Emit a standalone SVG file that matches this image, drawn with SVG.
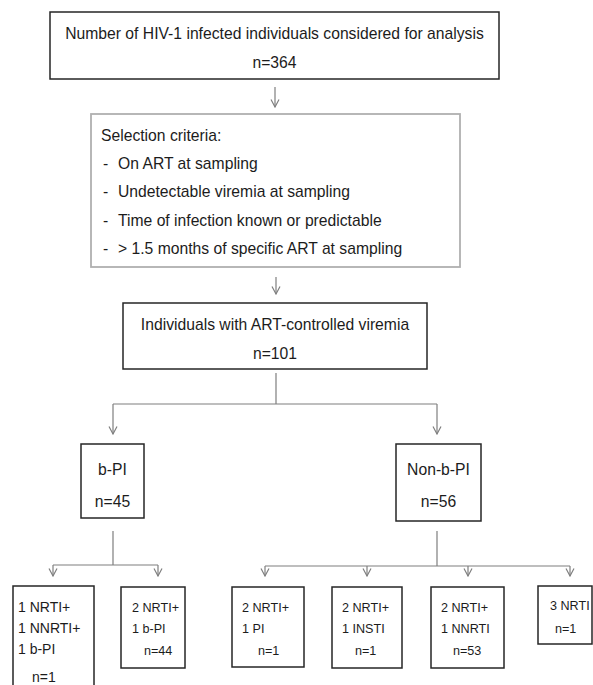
<svg xmlns="http://www.w3.org/2000/svg" width="593" height="685" viewBox="0 0 593 685">
  <defs>
    <style>
      .box { fill: #ffffff; stroke: #262626; stroke-width: 1.5; }
      .criteria { fill: #ffffff; stroke: #b0b0b0; stroke-width: 1.8; }
      .lbl { font-family: "Liberation Sans", Arial, sans-serif; font-size: 15.7px; fill: #1c1c1c; }
      .mid { text-anchor: middle; }
      .sm { font-family: "Liberation Sans", Arial, sans-serif; font-size: 12.6px; fill: #1c1c1c; }
      .md { font-family: "Liberation Sans", Arial, sans-serif; font-size: 14px; fill: #1c1c1c; }
      .conn { fill: none; stroke: #7f7f7f; stroke-width: 1.2; }
      .arrow { marker-end: url(#openHead); }
    </style>
    <marker id="openHead" markerUnits="userSpaceOnUse" viewBox="-9 -5 10 10" refX="0" refY="0" markerWidth="10" markerHeight="10" orient="auto">
      <path d="M-7.5,-4 L0,0 L-7.5,4" fill="none" stroke="#7f7f7f" stroke-width="1.2"/>
    </marker>
  </defs>

  <rect width="593" height="685" fill="#ffffff"/>

  <!-- connectors -->
  <g id="connectors" class="conn">
    <line class="arrow" x1="275" y1="87" x2="275" y2="107"/>
    <line class="arrow" x1="276" y1="277" x2="276" y2="294"/>
    <path d="M276,373 V404 M113,404 H437"/>
    <line class="arrow" x1="113" y1="404" x2="113" y2="434"/>
    <line class="arrow" x1="437" y1="404" x2="437" y2="434"/>
    <path d="M113,531 V565 M53,565 H158"/>
    <line class="arrow" x1="53" y1="565" x2="53" y2="576"/>
    <line class="arrow" x1="158" y1="565" x2="158" y2="576"/>
    <path d="M437,531 V566 M265,566 H570"/>
    <line class="arrow" x1="265" y1="566" x2="265" y2="576"/>
    <line class="arrow" x1="367" y1="566" x2="367" y2="576"/>
    <line class="arrow" x1="468" y1="566" x2="468" y2="576"/>
    <line class="arrow" x1="570" y1="566" x2="570" y2="576"/>
  </g>

  <!-- cohort -->
  <g id="cohort">
    <rect class="box" x="50" y="12" width="449" height="67"/>
    <text class="lbl mid" x="274.5" y="38.5">Number of HIV-1  infected individuals considered for analysis</text>
    <text class="lbl mid" x="274.5" y="67.5">n=364</text>
  </g>

  <!-- selection criteria -->
  <g id="criteria">
    <rect class="criteria" x="91" y="114" width="369" height="153"/>
    <text class="lbl" x="101" y="140.5">Selection criteria:</text>
    <text class="lbl" x="103" y="168.5">-</text>
    <text class="lbl" x="118" y="168.5">On ART at sampling</text>
    <text class="lbl" x="103" y="197">-</text>
    <text class="lbl" x="118" y="197">Undetectable viremia at sampling</text>
    <text class="lbl" x="103" y="225.5">-</text>
    <text class="lbl" x="118" y="225.5">Time of infection known or predictable</text>
    <text class="lbl" x="103" y="253.5">-</text>
    <text class="lbl" x="118" y="253.5">&gt; 1.5 months of specific ART at sampling</text>
  </g>

  <!-- controlled -->
  <g id="controlled">
    <rect class="box" x="123" y="303" width="304" height="66"/>
    <text class="lbl mid" x="275" y="329.5">Individuals with ART-controlled viremia</text>
    <text class="lbl mid" x="275" y="358.5">n=101</text>
  </g>

  <!-- b-PI -->
  <g id="bpi">
    <rect class="box" x="81" y="444" width="63" height="74"/>
    <text class="lbl mid" x="112.5" y="474.5">b-PI</text>
    <text class="lbl mid" x="112.5" y="506.5">n=45</text>
  </g>

  <!-- non-b-PI -->
  <g id="nonbpi">
    <rect class="box" x="396" y="444" width="85" height="77"/>
    <text class="lbl mid" x="438.5" y="474.5">Non-b-PI</text>
    <text class="lbl mid" x="438.5" y="506.5">n=56</text>
  </g>

  <!-- regimens -->
  <g id="reg-nrti-nnrti-bpi">
    <rect class="box" x="13" y="586" width="81" height="112"/>
    <text class="md" x="18" y="612">1 NRTI+</text>
    <text class="md" x="18" y="633">1 NNRTI+</text>
    <text class="md" x="18" y="654">1 b-PI</text>
    <text class="md" x="32" y="682">n=1</text>
  </g>

  <g id="reg-2nrti-bpi">
    <rect class="box" x="121" y="587" width="64" height="81"/>
    <text class="sm" x="132" y="611.5">2 NRTI+</text>
    <text class="sm" x="132" y="632.5">1 b-PI</text>
    <text class="sm" x="144" y="655">n=44</text>
  </g>

  <g id="reg-2nrti-pi">
    <rect class="box" x="232" y="587" width="72" height="80"/>
    <text class="sm" x="242" y="611.5">2 NRTI+</text>
    <text class="sm" x="242" y="632.5">1 PI</text>
    <text class="sm" x="258" y="655">n=1</text>
  </g>

  <g id="reg-2nrti-insti">
    <rect class="box" x="332" y="587" width="70" height="81"/>
    <text class="sm" x="342" y="611.5">2 NRTI+</text>
    <text class="sm" x="342" y="632.5">1 INSTI</text>
    <text class="sm" x="355" y="655">n=1</text>
  </g>

  <g id="reg-2nrti-nnrti">
    <rect class="box" x="431" y="587" width="73" height="81"/>
    <text class="sm" x="441" y="611.5">2 NRTI+</text>
    <text class="sm" x="441" y="632.5">1 NNRTI</text>
    <text class="sm" x="453" y="655">n=53</text>
  </g>

  <g id="reg-3nrti">
    <rect class="box" x="538" y="586" width="54" height="58"/>
    <text class="sm" x="550" y="609.5">3 NRTI</text>
    <text class="sm" x="555" y="632.5">n=1</text>
  </g>
</svg>
